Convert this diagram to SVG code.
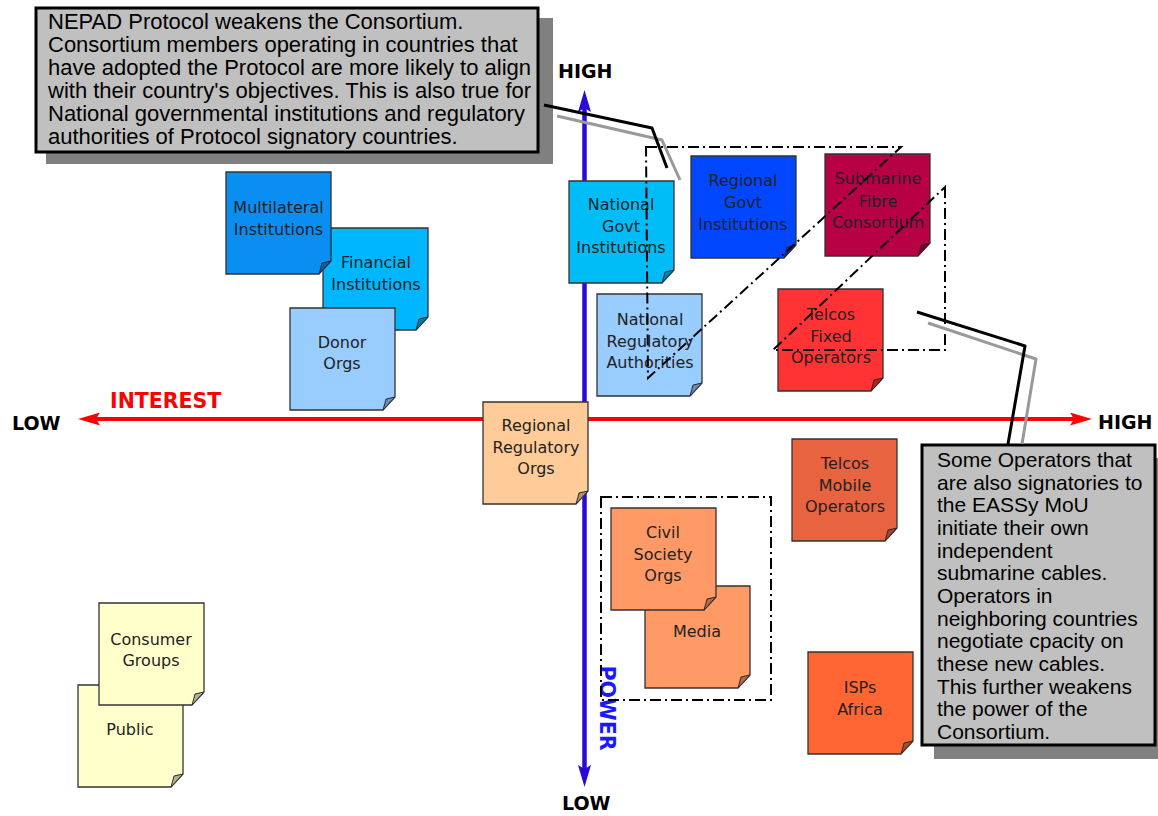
<svg xmlns="http://www.w3.org/2000/svg" xmlns:xlink="http://www.w3.org/1999/xlink" width="1158" height="816" viewBox="0 0 1158 816">
<style>
.nt{font-family:"DejaVu Sans",Verdana,sans-serif;font-size:16px;fill:#222;text-anchor:middle}
.ax{font-family:"DejaVu Sans",Verdana,sans-serif;font-weight:bold;font-size:19px;fill:#000}
.big{font-family:"DejaVu Sans",Verdana,sans-serif;font-weight:bold;font-size:20.5px}
.ct{font-family:"Liberation Sans",Arial,sans-serif;fill:#000}
.dd{fill:none;stroke:#000;stroke-width:2;stroke-dasharray:11 4 2 4}
.box{fill:#c0c0c0;stroke:#000;stroke-width:3}
.shadow{fill:#808080}
.lk{fill:none;stroke:#000;stroke-width:3;stroke-linejoin:round}
.lg{fill:none;stroke:#999;stroke-width:3;stroke-linejoin:round}
</style>
<defs>
<g id="note">
<path d="M0,0 H105 V89 L93,102 H0 Z" stroke="#333" stroke-width="1.3"/>
<path d="M93,102 Q95,95 96,91 L105,89 Z" stroke="#333" stroke-width="1"/>
<path d="M93,102 Q95,95 96,91 L105,89 Z" fill="#000" fill-opacity="0.3"/>
</g>
<marker id="ar" markerUnits="userSpaceOnUse" markerWidth="22" markerHeight="13" refX="14" refY="6.5" orient="auto-start-reverse">
<path d="M0,0 L22,6.5 L0,13 L4,6.5 Z" fill="#ff0000"/>
</marker>
<marker id="ab" markerUnits="userSpaceOnUse" markerWidth="22" markerHeight="13" refX="14" refY="6.5" orient="auto-start-reverse">
<path d="M0,0 L22,6.5 L0,13 L4,6.5 Z" fill="#2a0ad6"/>
</marker>
</defs>
<rect width="1158" height="816" fill="#fff"/>

<g id="axes">
<line x1="86" y1="419" x2="1084" y2="419" stroke="#ff0000" stroke-width="4" marker-start="url(#ar)" marker-end="url(#ar)"/>
<line x1="584.5" y1="98" x2="584.5" y2="779" stroke="#2a0ad6" stroke-width="4.5" marker-start="url(#ab)" marker-end="url(#ab)"/>
<text class="ax" x="12" y="430">LOW</text>
<text class="ax" x="1098" y="429">HIGH</text>
<text class="ax" x="558" y="78">HIGH</text>
<text class="ax" x="562" y="810">LOW</text>
<text class="big" x="110" y="408" fill="#ff0000">INTEREST</text>
<text class="big" transform="translate(600,708) rotate(90)" text-anchor="middle" fill="#1a1aff">POWER</text>
</g>

<g id="n-financial"><use xlink:href="#note" x="323" y="228" fill="#00b6ff"/>
<text class="nt" x="376" y="268">Financial</text><text class="nt" x="376" y="290">Institutions</text></g>
<g id="n-multilateral"><use xlink:href="#note" x="226" y="172" fill="#0a8ef2"/>
<text class="nt" x="278.5" y="213">Multilateral</text><text class="nt" x="278.5" y="235">Institutions</text></g>
<g id="n-donor"><use xlink:href="#note" x="290" y="308" fill="#99ccff"/>
<text class="nt" x="342" y="348">Donor</text><text class="nt" x="342" y="369">Orgs</text></g>

<g id="n-natgovt"><use xlink:href="#note" x="569" y="181" fill="#00bdf7"/>
<text class="nt" x="621" y="210">National</text><text class="nt" x="621" y="232">Govt</text><text class="nt" x="621" y="253">Institutions</text></g>
<g id="n-natreg"><use xlink:href="#note" x="597" y="294" fill="#99ccff"/>
<text class="nt" x="650" y="325">National</text><text class="nt" x="650" y="347">Regulatory</text><text class="nt" x="650" y="368">Authorities</text></g>
<g id="n-reggovt"><use xlink:href="#note" x="691" y="156" fill="#0047ff"/>
<text class="nt" x="743" y="186">Regional</text><text class="nt" x="743" y="208">Govt</text><text class="nt" x="743" y="230">Institutions</text></g>
<g id="n-submarine"><use xlink:href="#note" x="825" y="154" fill="#b80045"/>
<text class="nt" x="878" y="184">Submarine</text><text class="nt" x="878" y="207">Fibre</text><text class="nt" x="878" y="228">Consortium</text></g>
<g id="n-telcofixed"><use xlink:href="#note" x="778" y="289" fill="#ff3333"/>
<text class="nt" x="831" y="320">Telcos</text><text class="nt" x="831" y="342">Fixed</text><text class="nt" x="831" y="363">Operators</text></g>

<g id="n-regreg"><use xlink:href="#note" x="483" y="402" fill="#ffcc99"/>
<text class="nt" x="536" y="431">Regional</text><text class="nt" x="536" y="453">Regulatory</text><text class="nt" x="536" y="474">Orgs</text></g>
<g id="n-telcomobile"><use xlink:href="#note" x="792" y="439" fill="#e8633f"/>
<text class="nt" x="845" y="469">Telcos</text><text class="nt" x="845" y="491">Mobile</text><text class="nt" x="845" y="512">Operators</text></g>
<g id="n-media"><use xlink:href="#note" x="645" y="586" fill="#ff9966"/>
<text class="nt" x="697" y="637">Media</text></g>
<g id="n-civil"><use xlink:href="#note" x="611" y="508" fill="#ff9966"/>
<text class="nt" x="663" y="538">Civil</text><text class="nt" x="663" y="560">Society</text><text class="nt" x="663" y="581">Orgs</text></g>
<g id="n-isps"><use xlink:href="#note" x="808" y="652" fill="#ff6633"/>
<text class="nt" x="860" y="693">ISPs</text><text class="nt" x="860" y="715">Africa</text></g>
<g id="n-public"><use xlink:href="#note" x="78" y="685" fill="#ffffcc"/>
<text class="nt" x="130" y="735">Public</text></g>
<g id="n-consumer"><use xlink:href="#note" x="99" y="603" fill="#ffffcc"/>
<text class="nt" x="151" y="645">Consumer</text><text class="nt" x="151" y="666">Groups</text></g>

<g id="groupings">
<polygon class="dd" points="646,147 901,147 648,378"/>
<polygon class="dd" points="945,187 945,350 773,350"/>
<rect class="dd" x="601" y="497" width="170" height="203"/>
</g>

<g id="callout-nepad">
<rect class="shadow" x="46" y="18" width="507" height="146"/>
<rect class="box" x="36" y="8" width="502" height="144"/>
<g class="ct" font-size="22">
<text x="48" y="29">NEPAD Protocol weakens the Consortium.</text>
<text x="48" y="52">Consortium members operating in countries that</text>
<text x="48" y="75">have adopted the Protocol are more likely to align</text>
<text x="48" y="98">with their country's objectives. This is also true for</text>
<text x="48" y="121">National governmental institutions and regulatory</text>
<text x="48" y="144">authorities of Protocol signatory countries.</text>
</g>
</g>

<g id="callout-operators">
<rect class="shadow" x="934" y="458" width="233" height="301"/>
<rect class="box" x="922" y="445" width="233" height="300"/>
<g class="ct" font-size="21">
<text x="937" y="467">Some Operators that</text>
<text x="937" y="490">are also signatories to</text>
<text x="937" y="512">the EASSy MoU</text>
<text x="937" y="535">initiate their own</text>
<text x="937" y="558">independent</text>
<text x="937" y="580">submarine cables.</text>
<text x="937" y="603">Operators in</text>
<text x="937" y="626">neighboring countries</text>
<text x="937" y="648">negotiate cpacity on</text>
<text x="937" y="671">these new cables.</text>
<text x="937" y="694">This further weakens</text>
<text x="937" y="716">the power of the</text>
<text x="937" y="739">Consortium.</text>
</g>
</g>

<g id="connectors">
<polyline class="lg" points="557,116 662,140 680,180"/>
<polyline class="lk" points="544,105 652,128 667,168"/>
<polyline class="lg" points="928,323 1036,359 1022,444"/>
<polyline class="lk" points="917,312 1025,346 1008,444"/>
</g>
</svg>
